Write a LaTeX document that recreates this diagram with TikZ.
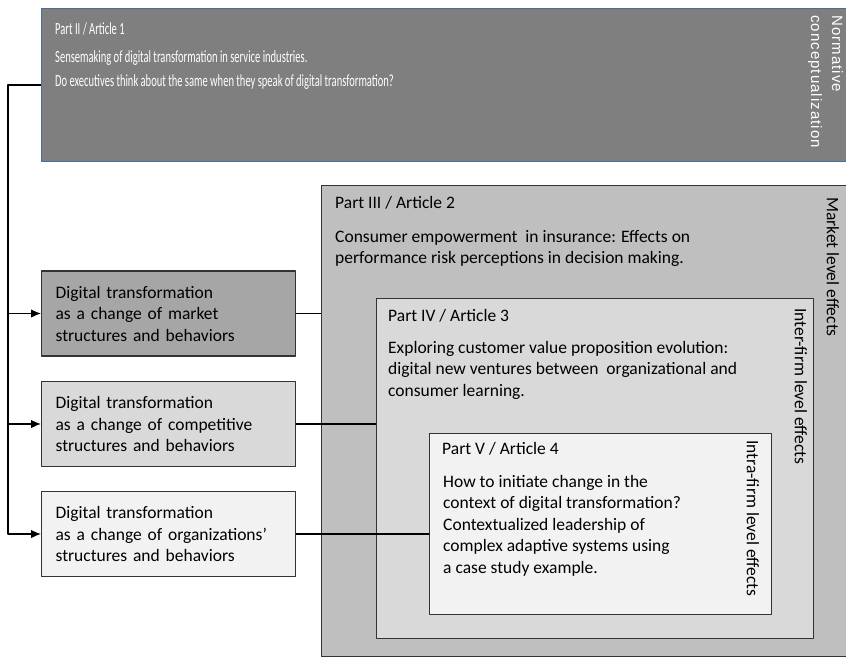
\documentclass[tikz,border=0pt]{standalone}
\usepackage{fontspec}
\setmainfont{Carlito}
\newfontfamily\normfont[LetterSpace=7]{Liberation Sans}
\usetikzlibrary{arrows.meta}
\definecolor{topgray}{HTML}{7F7F7F}
\definecolor{topblue}{HTML}{41719C}
\definecolor{grayA}{HTML}{A6A6A6}
\definecolor{grayB}{HTML}{BFBFBF}
\definecolor{grayC}{HTML}{D9D9D9}
\definecolor{grayD}{HTML}{F2F2F2}
\newcommand{\squeeze}[1]{\scalebox{0.62}[1]{#1}}
\begin{document}
\begin{tikzpicture}[x=1pt, y=-1pt, line join=round, >={Latex[length=10pt,width=8.5pt]},
  font=\fontsize{17.5}{21.5}\selectfont,
  box/.style={draw=black!80, line width=1.2pt, anchor=north west, inner sep=0pt},
  mbox/.style={box, anchor=west, minimum height=85pt, text width=226pt, inner xsep=14pt, align=left},
  txt/.style={anchor=base west, inner sep=0pt},
  side/.style={rotate=-90, anchor=west, inner sep=0pt, align=left}]
\useasboundingbox (0,0) rectangle (846,657);
% nested article boxes
\node[box, draw=topblue, line width=1pt, fill=topgray, minimum width=810pt, minimum height=153pt] (top) at (41,8) {};
\node[box, fill=grayB, minimum width=530pt, minimum height=471pt] (p3) at (321,185) {};
\node[box, fill=grayC, minimum width=437pt, minimum height=340pt] (p4) at (376,298) {};
\node[box, fill=grayD, minimum width=342pt, minimum height=181pt] (p5) at (429,433) {};
% texts
\begin{scope}[font=\fontsize{17}{20}\selectfont, text=white]
\node[txt] (h2) at (55,34) {\squeeze{Part II / Article 1}};
\node[txt] (a1) at (55,62) {\squeeze{Sensemaking of digital transformation in service industries.}};
\node[txt] (a2) at (55,86) {\squeeze{Do executives think about the same when they speak of digital transformation?}};
\end{scope}
\node[txt] (h3) at (335,208) {Part III / Article 2};
\node[txt, align=left, anchor=north west] (a3) at (335,230) {Consumer empowerment\ \ in insurance: Effects on\\performance risk perceptions in decision making.};
\node[txt] (h4) at (388,321) {Part IV / Article 3};
\node[txt, align=left, anchor=north west] (a4) at (388,341) {Exploring customer value proposition evolution:\\digital new ventures between\ \ organizational and\\consumer learning.};
\node[txt] (h5) at (442,454) {Part V / Article 4};
\node[txt, align=left, anchor=north west] (a5) at (443,475) {How to initiate change in the\\context of digital transformation?\\Contextualized leadership of\\complex adaptive systems using\\a case study example.};
% level labels
\node[side, text=white, font=\normfont\fontsize{15}{21}\selectfont] (norm) at (825.5,15) {Normative\\conceptualization};
\node[side] (mkt) at (833,197) {Market level effects};
\node[side] (inter) at (801,308) {Inter-firm level effects};
\node[side] (intra) at (753,440) {Intra-firm level effects};
% change boxes
\node[mbox, fill=grayA] (m1) at (41,313.5) {Digital transformation\\as a change of market\\structures and behaviors};
\node[mbox, fill=grayC] (m2) at (41,424) {Digital transformation\\as a change of competitive\\structures and behaviors};
\node[mbox, fill=grayD] (m3) at (41,534) {Digital transformation\\as a change of organizations'\\structures and behaviors};
% connectors
\coordinate (trunk) at (8,0);
\draw[line width=1.2pt, ->] (top.west) -| (trunk |- m3.west) -- (m3.west);
\foreach \m in {m1,m2} \draw[line width=1.2pt, ->] (trunk |- \m.west) -- (\m.west);
\foreach \m/\p in {m1/p3,m2/p4,m3/p5} \draw[line width=1.2pt] (\m.east) -- (\m.east -| \p.west);
\end{tikzpicture}
\end{document}
